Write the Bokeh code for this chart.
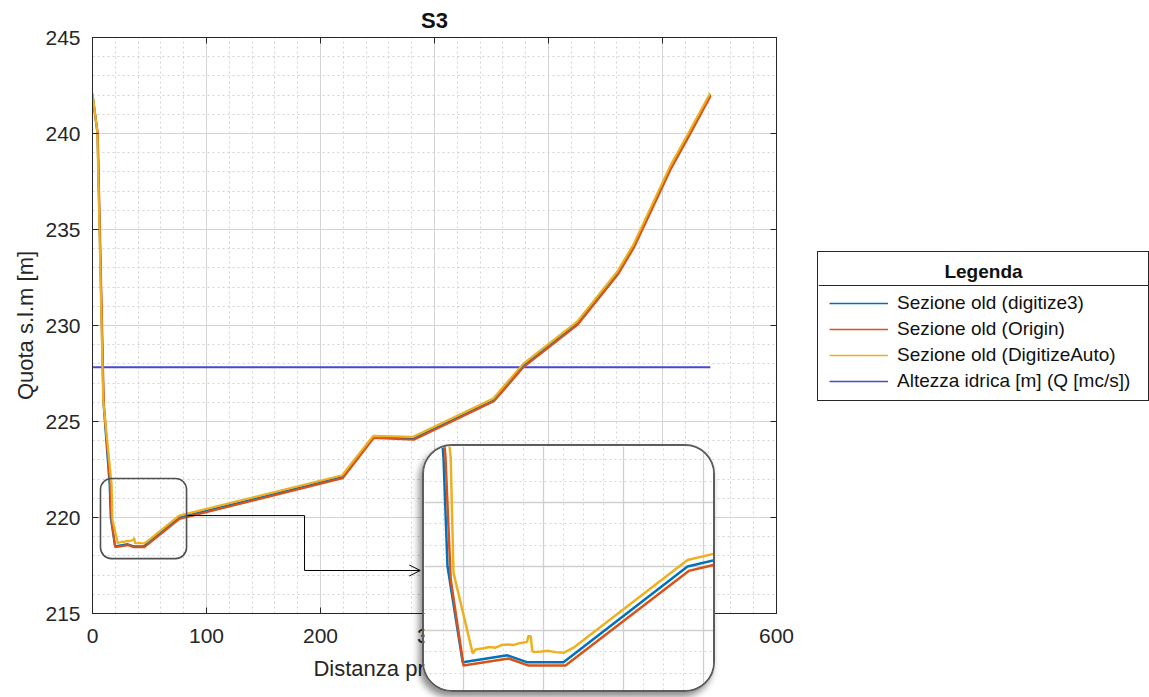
from bokeh.embed import file_html
from bokeh.layouts import column
from bokeh.models import (Arrow, BoxAnnotation, CustomJSTickFormatter, Label, Legend,
                          LegendItem, LinearAxis, OpenHead, Range1d, SingleIntervalTicker, Span)
from bokeh.plotting import figure
from bokeh.resources import INLINE

FONT = "Liberation Sans"
INK = "#262626"

# Section S3: ground profile digitised with three methods (distance [m], elevation [m a.s.l.])
dist_digitize3 = [0.0, 4.4, 9.6, 15.0, 16.0, 19.8, 31.0, 36.0, 45.0, 76.0,
                  219.3, 246.5, 281.6, 351.8, 378.0, 425.4, 460.5, 474.6, 507.0, 522.8, 542.0]
quota_digitize3 = [242.0, 240.0, 226.0, 221.7, 220.0, 218.5, 218.61, 218.5, 218.5, 220.0,
                   222.1, 224.2, 224.1, 226.1, 227.9, 230.1, 232.7, 234.1, 238.2, 239.9, 242.0]

dist_origin = [0.0, 4.6, 9.9, 15.5, 16.8, 20.0, 31.3, 36.3, 45.5, 76.3,
               219.6, 246.8, 281.9, 352.1, 378.3, 425.7, 460.8, 474.9, 507.3, 523.1, 542.2]
quota_origin = [242.0, 240.0, 226.0, 221.7, 219.8, 218.45, 218.56, 218.45, 218.45, 219.93,
                222.05, 224.15, 224.05, 226.05, 227.85, 230.05, 232.65, 234.05, 238.15, 239.85, 241.95]

dist_auto = [0.0, 4.2, 9.4, 16.8, 17.5, 22.3, 23.0, 25.0, 26.5, 28.0, 29.5, 31.0, 32.5, 34.0,
             35.9, 36.2, 36.8, 37.2, 37.6, 39.5, 41.0, 43.0, 45.0, 47.5, 76.0,
             219.0, 246.2, 281.3, 351.5, 377.7, 425.1, 460.2, 474.3, 506.7, 522.5, 541.8]
quota_auto = [242.1, 240.1, 226.1, 221.7, 219.9, 218.64, 218.70, 218.72, 218.74, 218.73, 218.77,
              218.78, 218.77, 218.80, 218.82, 218.91, 218.91, 218.68, 218.66, 218.67, 218.68,
              218.66, 218.65, 218.73, 220.1,
              222.2, 224.25, 224.2, 226.2, 228.0, 230.2, 232.8, 234.2, 238.3, 240.0, 242.1]

# Water surface elevation for the design discharge
water_dist = [0.0, 542.0]
water_quota = [227.83, 227.83]

series_labels = ["Sezione old (digitize3)", "Sezione old (Origin)",
                 "Sezione old (DigitizeAuto)", "Altezza idrica [m] (Q [mc/s])"]
series_colors = ["#0072BD", "#D95319", "#EDB120", "#4848D4"]
series_data = [(dist_digitize3, quota_digitize3), (dist_origin, quota_origin),
               (dist_auto, quota_auto), (water_dist, water_quota)]

# Zoom window (main plot) and the view shown in the detail panel
zoom_x = (7.0, 82.5)
zoom_y = (217.86, 222.03)
detail_x = (10.25, 82.5)
detail_y = (218.06, 221.875)
connector_x = 186.0
connector_y = 217.24
connector_end = 287.5

# ---------------------------------------------------------------- main plot
p = figure(width=1149, height=697, x_range=Range1d(0, 600), y_range=Range1d(215, 245),
           output_backend="svg", toolbar_location=None, title="S3",
           min_border_left=92, min_border_right=373, min_border_top=37, min_border_bottom=84)
p.outline_line_color = INK
p.background_fill_color = "white"
p.border_fill_color = "white"

p.title.align = "center"
p.title.text_font = FONT
p.title.text_font_size = "22px"
p.title.text_font_style = "bold"
p.title.text_color = "#111111"
p.title.standoff = 10

xticker = SingleIntervalTicker(interval=100, num_minor_ticks=5)
yticker = SingleIntervalTicker(interval=5, num_minor_ticks=5)

xa = p.below[0]
ya = p.left[0]
xa.ticker = xticker
ya.ticker = yticker
xa.axis_label = "Distanza progressiva [m]"
ya.axis_label = "Quota s.l.m [m]"
for ax in (xa, ya):
    ax.major_label_text_font = FONT
    ax.major_label_text_font_size = "21px"
    ax.major_label_text_color = INK
    ax.axis_label_text_font = FONT
    ax.axis_label_text_font_size = "22px"
    ax.axis_label_text_font_style = "normal"
    ax.axis_label_text_color = INK
    ax.axis_line_color = INK
    ax.major_tick_line_color = INK
    ax.major_tick_in = 6
    ax.major_tick_out = 0
    ax.minor_tick_in = 0
    ax.minor_tick_out = 0
xa.major_label_standoff = 15
ya.major_label_standoff = 12
xa.axis_label_standoff = 10
ya.axis_label_standoff = 4

# Box-style ticks on the top and right edges, without labels
blank = CustomJSTickFormatter(code="return ''")
for side, tk in (("above", xticker), ("right", yticker)):
    p.add_layout(LinearAxis(ticker=tk, formatter=blank, major_tick_in=6, major_tick_out=0,
                            minor_tick_in=0, minor_tick_out=0, major_label_standoff=0,
                            major_label_text_font_size="1px", axis_line_color=INK,
                            major_tick_line_color=INK), side)

for g, t in ((p.xgrid, xticker), (p.ygrid, yticker)):
    g.ticker = t
    g.grid_line_color = "#d4d4d4"
    g.grid_line_width = 1
    g.minor_grid_line_color = "#cfcfcf"
    g.minor_grid_line_dash = "2 3"
    g.minor_grid_line_alpha = 0.9

p.line(water_dist, water_quota, line_color=series_colors[3], line_width=2)
p.line(dist_digitize3, quota_digitize3, line_color=series_colors[0], line_width=2.2)
p.line(dist_origin, quota_origin, line_color=series_colors[1], line_width=2.2)
p.line(dist_auto, quota_auto, line_color=series_colors[2], line_width=2.2)

# Rounded frame around the zoomed area and the elbow connector to the detail panel
p.add_layout(BoxAnnotation(left=zoom_x[0], right=zoom_x[1], bottom=zoom_y[0], top=zoom_y[1],
                           fill_alpha=0, line_color="#505050", line_alpha=1, line_width=1.6,
                           border_radius=11))
p.line([zoom_x[1], connector_x, connector_x], [220.1, 220.1, connector_y],
       line_color="black", line_width=1)
p.add_layout(Arrow(end=OpenHead(size=11, line_width=1, line_color="black"),
                   x_start=connector_x, y_start=connector_y, x_end=connector_end, y_end=connector_y,
                   line_color="black", line_width=1))

# ---------------------------------------------------------------- legend box
# The key renderers carry the series data; this small panel only shows their legend swatches.
lg = figure(width=330, height=148, x_range=Range1d(0, 330), y_range=Range1d(0, 148),
            x_axis_location=None, y_axis_location=None, min_border=0,
            output_backend="svg", toolbar_location=None)
lg.grid.visible = False
lg.outline_line_color = None
lg.background_fill_color = "white"
lg.border_fill_color = "white"
keys = [lg.line(xs, ys, line_color=c, line_width=1.6)
        for (xs, ys), c in zip(series_data, series_colors)]
lg.add_layout(Label(x=165, y=129, text="Legenda", text_font=FONT, text_font_size="19px",
                    text_font_style="bold", text_color="#111111",
                    text_align="center", text_baseline="middle"))
lg.add_layout(Span(location=115, dimension="width", line_color=INK, line_width=1))
lg.add_layout(Legend(items=[LegendItem(label=lab, renderers=[r])
                            for lab, r in zip(series_labels, keys)],
                     location=(11, 6), margin=0, padding=5, spacing=0,
                     label_height=26, glyph_height=26, glyph_width=59, label_standoff=9,
                     label_text_font=FONT, label_text_font_size="19px",
                     label_text_color="#111111", border_line_color=None,
                     background_fill_alpha=0))
legend_box = column(lg)
legend_box.styles = {"position": "absolute", "left": "817px", "top": "251px",
                     "border": "1px solid #262626", "z-index": "4"}

# ---------------------------------------------------------------- detail panel
q = figure(width=289, height=244, x_range=Range1d(*detail_x), y_range=Range1d(*detail_y),
           x_axis_location=None, y_axis_location=None, min_border=0,
           output_backend="svg", toolbar_location=None)
q.outline_line_color = None
q.background_fill_color = "white"
q.border_fill_color = "white"
q.xgrid.ticker = SingleIntervalTicker(interval=20, num_minor_ticks=4)
q.ygrid.ticker = SingleIntervalTicker(interval=1, num_minor_ticks=3)
for g in (q.xgrid, q.ygrid):
    g.grid_line_color = "#d0d0d0"
    g.grid_line_width = 1.3
    g.minor_grid_line_color = "#d6d6d6"
    g.minor_grid_line_dash = "2 3"
q.line(dist_digitize3, quota_digitize3, line_color=series_colors[0], line_width=2.5)
q.line(dist_origin, quota_origin, line_color=series_colors[1], line_width=2.5)
q.line(dist_auto, quota_auto, line_color=series_colors[2], line_width=2.5)
detail_box = column(q)
detail_box.styles = {"position": "absolute", "left": "422px", "top": "444px",
                     "border": "2px solid #5c5c5c", "border-radius": "30px", "overflow": "hidden",
                     "box-shadow": "-3px 5px 7px rgba(0,0,0,0.45)", "z-index": "5"}

page = column(p, detail_box, legend_box)
open("out.html", "w").write(file_html(page, INLINE))
